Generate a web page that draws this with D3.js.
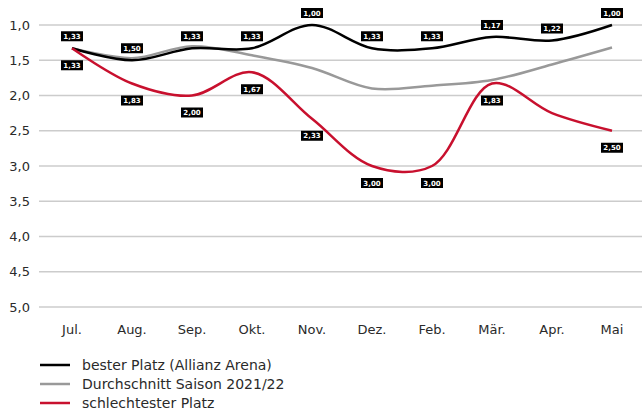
<!DOCTYPE html>
<html><head><meta charset="utf-8">
<script src="https://cdn.jsdelivr.net/npm/d3@7"></script>
<style>body{margin:0;background:#fff}svg{display:block}</style>
</head><body><svg id="c" width="642" height="413"></svg>
<script>
const months = ["Jul.","Aug.","Sep.","Okt.","Nov.","Dez.","Feb.","Mär.","Apr.","Mai"];
const best = [1.33,1.50,1.33,1.33,1.00,1.33,1.33,1.17,1.22,1.00];
const avg = [1.33,1.47,1.30,1.43,1.61,1.90,1.86,1.78,1.56,1.32];
const worst = [1.33,1.83,2.00,1.67,2.33,3.00,3.00,1.83,2.25,2.50];
const yTicks = [1.0,1.5,2.0,2.5,3.0,3.5,4.0,4.5,5.0];
const legendLabels = ["bester Platz (Allianz Arena)","Durchschnitt Saison 2021/22","schlechtester Platz"];
const colors = ["#000000","#999999","#c8102e"];

const svg = d3.select("#c");
const font = "'DejaVu Sans', sans-serif";
const x = d3.scalePoint().domain(months).range([72,612]);
const y = d3.scaleLinear().domain([1,5]).range([25,307]);

// grid
svg.append("g").selectAll("line").data(yTicks).join("line")
  .attr("x1",39).attr("x2",642).attr("y1",d=>y(d)).attr("y2",d=>y(d))
  .attr("stroke","#cccccc").attr("stroke-width",1.5);
// y labels
svg.append("g").selectAll("text").data(yTicks).join("text")
  .attr("x",30).attr("y",d=>y(d)).attr("dy","0.36em").attr("text-anchor","end")
  .attr("font-family",font).attr("font-size",13).attr("fill","#2a2a2a")
  .text(d=>d.toFixed(1).replace(".",","));
// x labels
svg.append("g").selectAll("text").data(months).join("text")
  .attr("x",d=>x(d)).attr("y",334).attr("text-anchor","middle")
  .attr("font-family",font).attr("font-size",13).attr("fill","#2a2a2a")
  .text(d=>d);

const line = d3.line().x((d,i)=>x(months[i])).y(d=>y(d)).curve(d3.curveCatmullRom.alpha(0.5));
const series = [avg,best,worst];
const sc = [colors[1],colors[0],colors[2]];
series.forEach((s,k)=>{
  svg.append("path").datum(s).attr("d",line).attr("fill","none")
    .attr("stroke",sc[k]).attr("stroke-width",2.5);
});

function drawLabels(items, off){
  const g = svg.append("g").selectAll("g").data(items).join("g")
    .attr("transform",d=>`translate(${x(months[d.i])},${y(d.v)+off})`);
  g.append("rect").attr("x",-11).attr("y",-5).attr("width",22).attr("height",10).attr("fill","#000");
  g.append("text").attr("text-anchor","middle").attr("dy","0.36em")
    .attr("font-family",font).attr("font-size",7).attr("font-weight","bold").attr("fill","#fff")
    .text(d=>d.v.toFixed(2).replace(".",","));
}
drawLabels(best.map((v,i)=>({v,i})), -12);
drawLabels(worst.map((v,i)=>({v,i})).filter(d=>d.i!==8), 17);

// legend
const lg = svg.append("g").selectAll("g").data(legendLabels).join("g")
  .attr("transform",(d,i)=>`translate(40,${365+i*19})`);
lg.append("line").attr("x1",0).attr("x2",30).attr("stroke",(d,i)=>colors[i]).attr("stroke-width",2.5);
lg.append("text").attr("x",42).attr("dy","0.36em").attr("font-family",font).attr("font-size",14).attr("fill","#2a2a2a").text(d=>d);
</script></body></html>
